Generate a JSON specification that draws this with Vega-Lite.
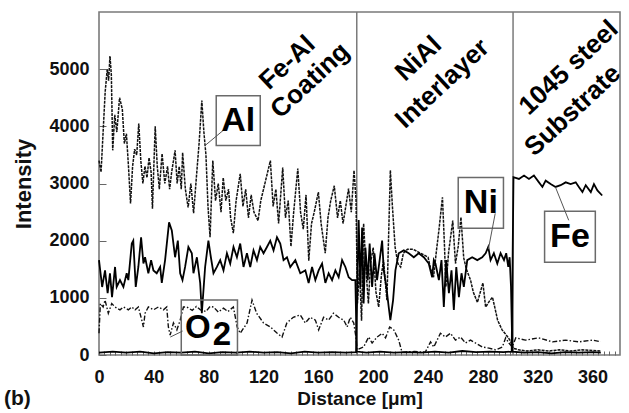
{
  "$schema": "https://vega.github.io/schema/vega-lite/v6.json",
  "width": 521,
  "height": 343,
  "autosize": {"type": "none"},
  "padding": {"left": 99, "top": 12, "right": 9, "bottom": 58},
  "background": "white",
  "config": {
    "view": {"stroke": "#7a7a7a", "strokeWidth": 1.6},
    "font": "Liberation Sans",
    "axis": {"labelFont": "Liberation Sans", "titleFont": "Liberation Sans", "labelFontWeight": "bold", "titleFontWeight": "bold", "labelColor": "#111", "titleColor": "#111", "grid": false, "domain": false, "tickColor": "#666"}
  },
  "title": {"text": "(b)", "orient": "bottom", "anchor": "start", "frame": "group", "dx": -95, "dy": -20, "offset": 0, "fontSize": 21, "fontWeight": "bold", "font": "Liberation Sans", "color": "#111"},
  "datasets": {
    "al": [
      {"x":0,"y":3400},{"x":1.5,"y":3200},{"x":3,"y":3900},{"x":4.5,"y":4600},{"x":6,"y":5000},{"x":7,"y":4800},{"x":8,"y":5230},{"x":9,"y":4900},{"x":10,"y":3580},{"x":11.5,"y":4200},{"x":13,"y":3900},{"x":15,"y":4500},{"x":17,"y":4300},{"x":18.5,"y":3700},{"x":20,"y":3870},{"x":21.5,"y":3300},{"x":23,"y":2650},{"x":24.5,"y":3300},{"x":26,"y":3600},{"x":27.5,"y":3500},{"x":29,"y":4050},{"x":30.5,"y":3400},{"x":32,"y":3000},{"x":33.5,"y":3300},{"x":35,"y":3100},{"x":36.5,"y":3450},{"x":38,"y":3200},{"x":39,"y":2560},{"x":40,"y":3300},{"x":41,"y":4000},{"x":42.5,"y":3300},{"x":44,"y":2900},{"x":46,"y":3520},{"x":48,"y":3000},{"x":50,"y":3300},{"x":51.5,"y":2900},{"x":53,"y":3200},{"x":55.5,"y":3580},{"x":57,"y":3000},{"x":58.5,"y":3300},{"x":60,"y":2900},{"x":61,"y":3540},{"x":63,"y":2900},{"x":65,"y":2580},{"x":67,"y":3000},{"x":69,"y":2480},{"x":71,"y":3100},{"x":73,"y":3700},{"x":75,"y":4450},{"x":76.5,"y":3900},{"x":78,"y":3500},{"x":79.5,"y":2600},{"x":81,"y":2060},{"x":83,"y":3400},{"x":85,"y":2700},{"x":87,"y":3000},{"x":89,"y":2500},{"x":90.6,"y":3100},{"x":92.5,"y":2700},{"x":94.5,"y":2900},{"x":96,"y":2400},{"x":98,"y":2130},{"x":100,"y":2700},{"x":103,"y":3170},{"x":105,"y":2600},{"x":107,"y":2900},{"x":109,"y":2400},{"x":111,"y":2800},{"x":113,"y":2500},{"x":116,"y":2350},{"x":118,"y":2700},{"x":120,"y":2900},{"x":122,"y":3100},{"x":125,"y":3400},{"x":127,"y":2600},{"x":129,"y":2900},{"x":131,"y":2300},{"x":134,"y":3280},{"x":136,"y":2400},{"x":138,"y":2700},{"x":140,"y":1900},{"x":142,"y":2500},{"x":145,"y":3260},{"x":147,"y":2500},{"x":149,"y":2200},{"x":151,"y":2800},{"x":153,"y":1650},{"x":155,"y":2300},{"x":157,"y":2500},{"x":160,"y":2850},{"x":162,"y":2300},{"x":165,"y":1780},{"x":167,"y":2400},{"x":169,"y":2700},{"x":171.6,"y":2960},{"x":174,"y":2400},{"x":176,"y":2700},{"x":178,"y":2300},{"x":180,"y":2600},{"x":182,"y":2910},{"x":184,"y":2500},{"x":186,"y":3230},{"x":187.5,"y":2700},{"x":188.5,"y":900},{"x":190,"y":1500},{"x":191.5,"y":600},{"x":193,"y":2300},{"x":195,"y":1400},{"x":196.5,"y":900},{"x":198,"y":1600},{"x":200,"y":1880},{"x":202,"y":1100},{"x":204,"y":840},{"x":206,"y":1400},{"x":207.5,"y":1650},{"x":210,"y":960},{"x":212.5,"y":3230},{"x":214,"y":2600},{"x":216,"y":1880},{"x":218,"y":1600},{"x":220,"y":1540},{"x":222,"y":1780},{"x":225,"y":1850},{"x":229,"y":1850},{"x":233,"y":1800},{"x":237,"y":1750},{"x":240,"y":1710},{"x":242,"y":1500},{"x":244,"y":1360},{"x":246,"y":1800},{"x":248,"y":2200},{"x":250.5,"y":2760},{"x":252,"y":1900},{"x":253,"y":1190},{"x":255,"y":1800},{"x":258,"y":2350},{"x":260,"y":1600},{"x":262,"y":1900},{"x":264,"y":2410},{"x":266,"y":1700},{"x":268,"y":1500},{"x":271,"y":1310},{"x":273,"y":1100},{"x":276,"y":920},{"x":280,"y":1260},{"x":282,"y":840},{"x":285,"y":950},{"x":287,"y":1010},{"x":289,"y":800},{"x":290.7,"y":610},{"x":294,"y":440},{"x":298,"y":320},{"x":300,"y":250},{"x":302,"y":120},{"x":306,"y":90},{"x":312,"y":70},{"x":320,"y":90},{"x":328,"y":70},{"x":336,"y":90},{"x":344,"y":70},{"x":352,"y":90},{"x":360,"y":80},{"x":366,"y":70}
    ],
    "fe": [
      {"x":0,"y":1660},{"x":2.3,"y":1190},{"x":4.4,"y":1480},{"x":6.3,"y":1080},{"x":8,"y":1430},{"x":9.5,"y":1010},{"x":11.7,"y":1540},{"x":12.9,"y":1190},{"x":15.3,"y":1310},{"x":17.8,"y":1190},{"x":20.2,"y":1430},{"x":21.4,"y":1310},{"x":23.9,"y":1950},{"x":25,"y":2000},{"x":26.8,"y":1190},{"x":28.7,"y":1540},{"x":30.7,"y":2060},{"x":32.4,"y":1600},{"x":33.6,"y":1710},{"x":36,"y":1430},{"x":38,"y":1660},{"x":39.7,"y":1480},{"x":42.1,"y":1430},{"x":44.6,"y":1540},{"x":45.8,"y":1260},{"x":48.2,"y":1660},{"x":51.1,"y":2320},{"x":53.1,"y":2180},{"x":55.5,"y":1710},{"x":57.5,"y":2000},{"x":59.2,"y":1430},{"x":60.9,"y":1310},{"x":62.8,"y":1540},{"x":65.2,"y":1890},{"x":67.7,"y":1780},{"x":68.9,"y":1430},{"x":71.4,"y":1710},{"x":73.8,"y":1260},{"x":75,"y":730},{"x":77.4,"y":1540},{"x":79.8,"y":2000},{"x":81.6,"y":1710},{"x":83.5,"y":1430},{"x":86,"y":1540},{"x":88.4,"y":1660},{"x":90.8,"y":1480},{"x":93.3,"y":1780},{"x":95.7,"y":1600},{"x":98.1,"y":1890},{"x":100.6,"y":1710},{"x":103,"y":1950},{"x":105.4,"y":1540},{"x":107.9,"y":1780},{"x":110.3,"y":1540},{"x":112.7,"y":1830},{"x":115.2,"y":1660},{"x":117.6,"y":1890},{"x":120,"y":1780},{"x":122.5,"y":1890},{"x":124.9,"y":2000},{"x":127.3,"y":1830},{"x":129.8,"y":2060},{"x":132.2,"y":1950},{"x":134.6,"y":1660},{"x":137.1,"y":1710},{"x":139.5,"y":1540},{"x":143.2,"y":1660},{"x":146.8,"y":1430},{"x":150.5,"y":1480},{"x":152.9,"y":1260},{"x":155.4,"y":1540},{"x":157.8,"y":1310},{"x":160.2,"y":1480},{"x":162.7,"y":1600},{"x":165.1,"y":1260},{"x":167.5,"y":1430},{"x":170,"y":1310},{"x":172.4,"y":1480},{"x":174.8,"y":1360},{"x":177.3,"y":1660},{"x":179.7,"y":1540},{"x":182.1,"y":1360},{"x":184.6,"y":1310},{"x":187,"y":1310},{"x":188,"y":60},{"x":195,"y":40},{"x":205,"y":60},{"x":215,"y":40},{"x":225,"y":50},{"x":235,"y":40},{"x":245,"y":60},{"x":255,"y":40},{"x":265,"y":70},{"x":275,"y":50},{"x":285,"y":60},{"x":295,"y":50},{"x":301,"y":60},{"x":302.3,"y":3110},{"x":306.3,"y":3080},{"x":310,"y":3140},{"x":313.6,"y":3080},{"x":317.2,"y":3140},{"x":320.9,"y":3020},{"x":323.4,"y":2940},{"x":325.8,"y":3050},{"x":329.4,"y":2990},{"x":333,"y":2940},{"x":336.7,"y":2970},{"x":340.4,"y":3020},{"x":344,"y":2990},{"x":347.7,"y":3020},{"x":350,"y":2940},{"x":352.6,"y":2850},{"x":355,"y":2970},{"x":358.7,"y":2850},{"x":361,"y":2990},{"x":363.5,"y":2880},{"x":367,"y":2790}
    ],
    "ni": [
      {"x":0,"y":40},{"x":10,"y":60},{"x":20,"y":40},{"x":30,"y":60},{"x":40,"y":30},{"x":50,"y":50},{"x":60,"y":40},{"x":70,"y":60},{"x":80,"y":30},{"x":90,"y":50},{"x":100,"y":40},{"x":110,"y":60},{"x":120,"y":40},{"x":130,"y":50},{"x":140,"y":30},{"x":150,"y":60},{"x":160,"y":40},{"x":170,"y":50},{"x":180,"y":40},{"x":187.5,"y":50},{"x":189.4,"y":2360},{"x":190.7,"y":1190},{"x":191.9,"y":2230},{"x":193,"y":900},{"x":194.3,"y":1880},{"x":196,"y":1310},{"x":197.4,"y":1950},{"x":199.2,"y":1190},{"x":200.9,"y":1780},{"x":202.8,"y":1310},{"x":204.7,"y":1660},{"x":206.5,"y":2000},{"x":207.7,"y":1480},{"x":209.6,"y":1190},{"x":211.3,"y":840},{"x":212.5,"y":610},{"x":214.5,"y":960},{"x":216.2,"y":1480},{"x":218.6,"y":1780},{"x":222.3,"y":1830},{"x":225.9,"y":1780},{"x":229.6,"y":1710},{"x":233.2,"y":1780},{"x":236.9,"y":1710},{"x":240.5,"y":1600},{"x":243,"y":1360},{"x":244.2,"y":1660},{"x":245.4,"y":1600},{"x":247.9,"y":1310},{"x":249.8,"y":1660},{"x":251.5,"y":840},{"x":253.2,"y":1660},{"x":255.2,"y":1080},{"x":257.1,"y":1480},{"x":258.8,"y":790},{"x":260.6,"y":1540},{"x":262.5,"y":1010},{"x":264.4,"y":1430},{"x":266.1,"y":1190},{"x":268.6,"y":1660},{"x":272.2,"y":1710},{"x":275.9,"y":1660},{"x":279.5,"y":1710},{"x":282,"y":1780},{"x":283.9,"y":1890},{"x":285.6,"y":1660},{"x":288,"y":1780},{"x":290.5,"y":1600},{"x":292.9,"y":1780},{"x":295.4,"y":1660},{"x":297,"y":1780},{"x":298.5,"y":1540},{"x":299.5,"y":1710},{"x":300.5,"y":1200},{"x":301.5,"y":60},{"x":310,"y":40},{"x":320,"y":50},{"x":330,"y":30},{"x":340,"y":50},{"x":350,"y":40},{"x":360,"y":50},{"x":366,"y":40}
    ],
    "o2": [
      {"x":0,"y":380},{"x":1,"y":900},{"x":3,"y":840},{"x":4.4,"y":960},{"x":6.8,"y":730},{"x":9.3,"y":900},{"x":11.7,"y":840},{"x":15.3,"y":790},{"x":17.8,"y":840},{"x":21.4,"y":790},{"x":23.9,"y":840},{"x":26.3,"y":790},{"x":28.7,"y":840},{"x":31.2,"y":610},{"x":32.4,"y":490},{"x":33.6,"y":730},{"x":36,"y":840},{"x":39.7,"y":790},{"x":43.3,"y":840},{"x":47,"y":790},{"x":49.4,"y":840},{"x":50.6,"y":490},{"x":51.9,"y":350},{"x":54.3,"y":560},{"x":56.8,"y":440},{"x":59.2,"y":610},{"x":61.6,"y":840},{"x":64,"y":840},{"x":68,"y":780},{"x":71,"y":850},{"x":74,"y":790},{"x":78,"y":760},{"x":81,"y":850},{"x":83.5,"y":840},{"x":87,"y":750},{"x":90.8,"y":820},{"x":94,"y":760},{"x":98,"y":840},{"x":100.8,"y":490},{"x":103,"y":380},{"x":108,"y":560},{"x":111.6,"y":960},{"x":115,"y":730},{"x":120,"y":560},{"x":125,"y":490},{"x":130,"y":380},{"x":133.5,"y":314},{"x":137,"y":560},{"x":141.7,"y":660},{"x":146.8,"y":700},{"x":150.5,"y":560},{"x":154,"y":660},{"x":157.8,"y":610},{"x":160.2,"y":440},{"x":163.8,"y":660},{"x":167.5,"y":610},{"x":171,"y":730},{"x":174.8,"y":660},{"x":178.5,"y":610},{"x":181,"y":490},{"x":183.3,"y":660},{"x":185.8,"y":560},{"x":187.5,"y":300},{"x":188.2,"y":90},{"x":193,"y":140},{"x":196.7,"y":314},{"x":199.2,"y":210},{"x":202.8,"y":314},{"x":206.5,"y":380},{"x":209,"y":300},{"x":212,"y":490},{"x":215,"y":440},{"x":218.6,"y":260},{"x":221,"y":50},{"x":230,"y":60},{"x":238,"y":50},{"x":241.8,"y":230},{"x":244.2,"y":140},{"x":249,"y":380},{"x":252.7,"y":314},{"x":256.4,"y":380},{"x":260,"y":260},{"x":263.7,"y":314},{"x":267.3,"y":210},{"x":271,"y":260},{"x":274.6,"y":210},{"x":279.5,"y":140},{"x":284.4,"y":120},{"x":289.3,"y":90},{"x":294.2,"y":140},{"x":296.6,"y":300},{"x":299,"y":210},{"x":301.4,"y":140},{"x":304,"y":300},{"x":311,"y":260},{"x":320.7,"y":300},{"x":330.7,"y":230},{"x":340.4,"y":260},{"x":350,"y":230},{"x":360,"y":260},{"x":366,"y":230}
    ],
    "phases": [{"x":188,"y":0,"y2":6000},{"x":302,"y":0,"y2":6000}],
    "boxes": [
      {"name":"Al","x":85.5,"x2":117.6,"y":3665,"y2":4537},
      {"name":"Ni","x":262,"x2":295,"y":2216,"y2":3106},
      {"name":"Fe","x":325,"x2":362,"y":1623,"y2":2513},
      {"name":"O2","x":60,"x2":101,"y":0,"y2":960}
    ],
    "links": [
      {"name":"Al","x":90.5,"y":3927,"x2":77.4,"y2":3665},
      {"name":"Ni","x":289,"y":2478,"x2":284,"y2":1850},
      {"name":"Fe","x":342.6,"y":2356,"x2":333,"y2":2932},
      {"name":"O2","x":61,"y":419,"x2":52,"y2":314}
    ],
    "boxlabels": [
      {"label":"Al","x":101.5,"y":4100,"size":34},
      {"label":"Ni","x":278.5,"y":2661,"size":34},
      {"label":"Fe","x":343.5,"y":2068,"size":34},
      {"label":"O","x":72,"y":470,"size":33},
      {"label":"2","x":89.6,"y":350,"size":33}
    ],
    "zones": [
      {"label":"Fe-Al","x":137.3,"y":5113},
      {"label":"Coating","x":154,"y":4800},
      {"label":"NiAl","x":233,"y":5183},
      {"label":"Interlayer","x":250.5,"y":4747},
      {"label":"1045 steel","x":342.6,"y":5026},
      {"label":"Substrate","x":345.5,"y":4276}
    ]
  },
  "encoding": {
    "x": {"field": "x", "type": "quantitative", "scale": {"domain": [0, 380], "nice": false, "zero": false},
      "axis": {"title": "Distance [μm]", "values": [0,4,8,12,16,20,24,28,32,36,40,44,48,52,56,60,64,68,72,76,80,84,88,92,96,100,104,108,112,116,120,124,128,132,136,140,144,148,152,156,160,164,168,172,176,180,184,188,192,196,200,204,208,212,216,220,224,228,232,236,240,244,248,252,256,260,264,268,272,276,280,284,288,292,296,300,304,308,312,316,320,324,328,332,336,340,344,348,352,356,360,364,368,372,376],
        "labelExpr": "datum.value % 40 == 0 ? datum.label : ''", "labelOverlap": false, "labelFlush": false, "tickSize": -4, "labelPadding": 17, "labelFontSize": 18, "titleFontSize": 19, "titlePadding": 3}},
    "y": {"field": "y", "type": "quantitative", "scale": {"domain": [0, 6000], "nice": false},
      "axis": {"title": "Intensity", "format": "d", "values": [0,1000,2000,3000,4000,5000], "tickSize": -7, "labelPadding": 17, "labelFontSize": 18, "titleFontSize": 22, "titlePadding": 13}}
  },
  "layer": [
    {"data": {"name": "phases"}, "mark": {"type": "rule", "color": "#7a7a7a", "strokeWidth": 1.5}, "encoding": {"y2": {"field": "y2"}}},
    {"data": {"name": "o2"}, "mark": {"type": "line", "color": "#111", "strokeWidth": 1.4, "strokeDash": [5, 2, 1.5, 2]}},
    {"data": {"name": "al"}, "mark": {"type": "line", "color": "#111", "strokeWidth": 1.5, "strokeDash": [3, 1]}},
    {"data": {"name": "ni"}, "mark": {"type": "line", "color": "#000", "strokeWidth": 1.8}},
    {"data": {"name": "fe"}, "mark": {"type": "line", "color": "#000", "strokeWidth": 1.8}},
    {"data": {"name": "boxes"}, "mark": {"type": "rect", "fill": null, "fillOpacity": 0, "stroke": "#6a6a6a", "strokeWidth": 1.5}, "encoding": {"x2": {"field": "x2"}, "y2": {"field": "y2"}}},
    {"data": {"name": "links"}, "mark": {"type": "rule", "color": "#555", "strokeWidth": 1}, "encoding": {"x2": {"field": "x2"}, "y2": {"field": "y2"}}},
    {"data": {"name": "boxlabels"}, "mark": {"type": "text", "font": "Liberation Sans", "fontWeight": "bold", "color": "#000", "align": "center", "baseline": "middle"}, "encoding": {"text": {"field": "label"}, "size": {"field": "size", "type": "quantitative", "scale": null}}},
    {"data": {"name": "zones"}, "mark": {"type": "text", "font": "Liberation Sans", "fontWeight": "bold", "fontSize": 26, "angle": 317, "color": "#000", "align": "center", "baseline": "middle"}, "encoding": {"text": {"field": "label"}}}
  ]
}
